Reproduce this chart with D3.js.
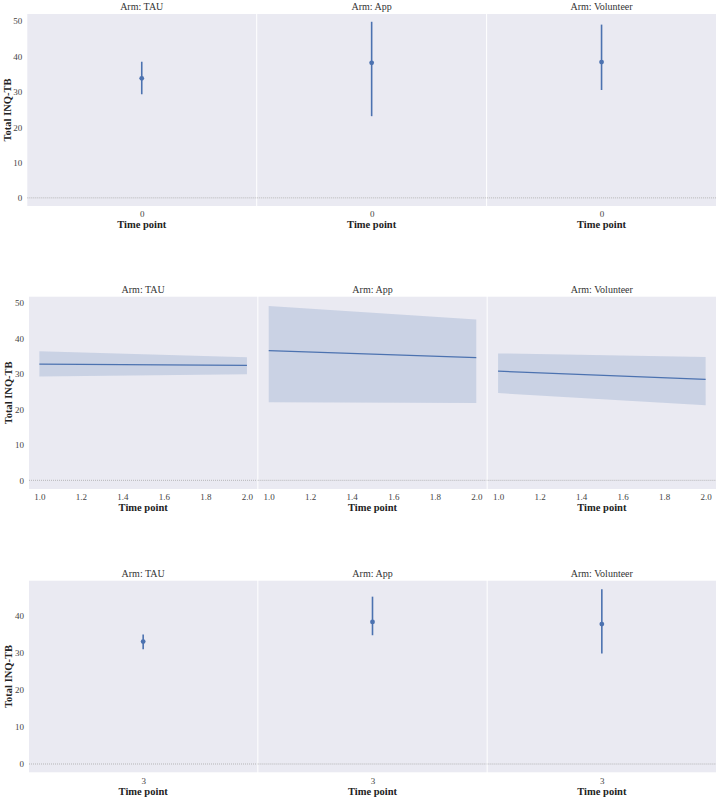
<!DOCTYPE html>
<html><head><meta charset="utf-8">
<script src="https://cdn.jsdelivr.net/npm/d3@7"></script>
<style>body{margin:0;background:#fff}svg{display:block}</style>
</head><body>
<script>
// ---- data ----
const arms = ["TAU", "App", "Volunteer"];
// row 1: time point 0 (point + CI)
const t0Label = ["0"];
const t0Mean = [33.8, 38.2, 38.4];
const t0Lo   = [29.3, 23.1, 30.5];
const t0Hi   = [38.5, 49.8, 49.0];
// row 2: time points 1..2 (line + band)
const tMid = [1.0, 2.0];
const midMean = [[32.8, 32.4], [36.6, 34.6], [30.8, 28.5]];
const midLo   = [[29.3, 29.9], [22.0, 21.8], [24.6, 21.2]];
const midHi   = [[36.4, 34.7], [49.2, 45.4], [35.8, 34.8]];
const midTicks = [1.0, 1.2, 1.4, 1.6, 1.8, 2.0];
// row 3: time point 3
const t3Label = ["3"];
const t3Mean = [33.0, 38.3, 37.7];
const t3Lo   = [30.9, 34.7, 29.8];
const t3Hi   = [34.9, 45.1, 47.1];
const yTicks12 = [0, 10, 20, 30, 40, 50];
const yTicks3 = [0, 10, 20, 30, 40];

const W = 720, H = 800;
const BLUE = "#4C72B0", BG = "#EAEAF2";
const FONT = "'Liberation Serif', 'DejaVu Serif', serif";
const svg = d3.select("body").append("svg").attr("width", W).attr("height", H)
  .style("font-family", FONT);

function row(cfg) {
  const {left, right, top, bottom, ydom, yticks, type} = cfg;
  const gap = 1;
  const pw = (right - left - 2 * gap) / 3;
  const y = d3.scaleLinear().domain(ydom).range([bottom, top]);
  // y label
  svg.append("text")
    .attr("transform", `translate(${cfg.ylabX},${(top + bottom) / 2}) rotate(-90)`)
    .attr("text-anchor", "middle").attr("dominant-baseline", "central")
    .attr("font-size", 10.5).attr("font-weight", "bold").attr("fill", "#222")
    .text("Total INQ-TB");
  arms.forEach((arm, i) => {
    const x0 = left + i * (pw + gap);
    const g = svg.append("g").attr("transform", `translate(${x0},0)`);
    g.append("rect").attr("x", 0).attr("y", top).attr("width", pw).attr("height", bottom - top).attr("fill", BG);
    // title
    g.append("text").attr("x", pw / 2).attr("y", top - 4).attr("text-anchor", "middle")
      .attr("font-size", 10).attr("fill", "#333").text("Arm: " + arm);
    // y=0 dotted ref line
    g.append("line").attr("x1", 0).attr("x2", pw).attr("y1", y(0)).attr("y2", y(0))
      .attr("stroke", "#a8a8a8").attr("stroke-width", 0.8).attr("stroke-dasharray", "1,1");
    // y axis on first panel
    if (i === 0) {
      const ya = g.append("g").call(d3.axisLeft(y).tickValues(yticks).tickSize(0).tickPadding(5).tickFormat(d3.format("d")));
      ya.select(".domain").remove();
      ya.selectAll("text").attr("font-size", 9).attr("fill", "#444").style("font-family", FONT);
    }
    let x;
    if (type === "point") {
      x = d3.scalePoint().domain(cfg.labels).range([0, pw]).padding(0.5);
      const xa = g.append("g").attr("transform", `translate(0,${bottom})`)
        .call(d3.axisBottom(x).tickSize(0).tickPadding(5));
      xa.select(".domain").remove();
      xa.selectAll("text").attr("font-size", 9).attr("fill", "#444").style("font-family", FONT);
      const cx = x(cfg.labels[0]);
      g.append("line").attr("x1", cx).attr("x2", cx).attr("y1", y(cfg.lo[i])).attr("y2", y(cfg.hi[i]))
        .attr("stroke", BLUE).attr("stroke-width", 1.6);
      g.append("circle").attr("cx", cx).attr("cy", y(cfg.mean[i])).attr("r", 2.4).attr("fill", BLUE);
    } else {
      x = d3.scaleLinear().domain([0.95, 2.05]).range([0, pw]);
      const xa = g.append("g").attr("transform", `translate(0,${bottom})`)
        .call(d3.axisBottom(x).tickValues(midTicks).tickSize(0).tickPadding(5).tickFormat(d3.format(".1f")));
      xa.select(".domain").remove();
      xa.selectAll("text").attr("font-size", 9).attr("fill", "#444").style("font-family", FONT);
      const pts = tMid.map((t, k) => ({t, m: midMean[i][k], lo: midLo[i][k], hi: midHi[i][k]}));
      g.append("path").datum(pts)
        .attr("d", d3.area().x(d => x(d.t)).y0(d => y(d.lo)).y1(d => y(d.hi)))
        .attr("fill", BLUE).attr("fill-opacity", 0.2);
      g.append("path").datum(pts)
        .attr("d", d3.line().x(d => x(d.t)).y(d => y(d.m)))
        .attr("fill", "none").attr("stroke", BLUE).attr("stroke-width", 1.2);
    }
    g.append("text").attr("x", pw / 2).attr("y", cfg.xlabY).attr("text-anchor", "middle")
      .attr("font-size", 10.5).attr("font-weight", "bold").attr("fill", "#222").text("Time point");
  });
}

row({left: 27.3, right: 716, top: 14, bottom: 206, ydom: [-2.3, 52], yticks: yTicks12,
     type: "point", labels: t0Label, mean: t0Mean, lo: t0Lo, hi: t0Hi, xlabY: 228, ylabX: 7});
row({left: 29, right: 716, top: 296.7, bottom: 489, ydom: [-2.45, 51.8], yticks: yTicks12,
     type: "line", xlabY: 511, ylabX: 8});
row({left: 29, right: 716, top: 580.7, bottom: 772.3, ydom: [-2.24, 49.4], yticks: yTicks3,
     type: "point", labels: t3Label, mean: t3Mean, lo: t3Lo, hi: t3Hi, xlabY: 795, ylabX: 8});
</script>
</body></html>
